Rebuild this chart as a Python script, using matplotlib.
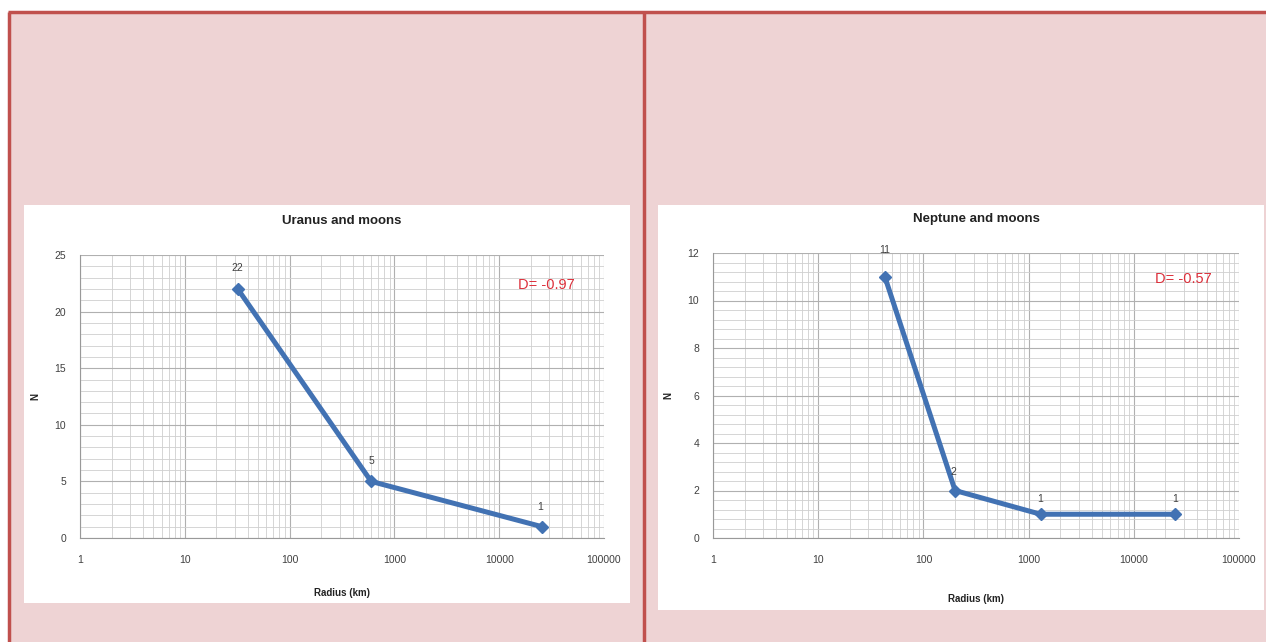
import matplotlib
matplotlib.use("Agg")
import matplotlib.pyplot as plt
from matplotlib.patches import Rectangle
from matplotlib.lines import Line2D
from matplotlib.ticker import LogLocator, MultipleLocator, NullFormatter, FixedLocator, FixedFormatter

plt.rcParams["font.family"] = ["Liberation Sans", "DejaVu Sans"]

# data
uranus_radius = [32, 600, 25559]
uranus_n = [22, 5, 1]
uranus_d = "D= -0.97"

neptune_radius = [43, 200, 1300, 24764]
neptune_n = [11, 2, 1, 1]
neptune_d = "D= -0.57"

x_ticks = [1, 10, 100, 1000, 10000, 100000]
x_labels = ["1", "10", "100", "1000", "10000", "100000"]

W, H = 1266, 642
PINK = "#eed3d4"
RED = "#c0504d"
LINE = "#4272b3"
GRID = "#cfcfcf"


def fx(px):
    return px / W


def fy(py):
    return 1 - py / H


fig = plt.figure(figsize=(W / 100, H / 100), dpi=100)
fig.patch.set_facecolor("white")

# pink background with red frame
fig.add_artist(Rectangle((fx(9), 0), 1, fy(12), transform=fig.transFigure,
                         facecolor=PINK, edgecolor="none", zorder=0))
for seg in [([fx(8), 1], [fy(12), fy(12)]),
            ([fx(9), fx(9)], [0, fy(12)]),
            ([fx(644), fx(644)], [0, fy(12)])]:
    fig.add_artist(Line2D(seg[0], seg[1], transform=fig.transFigure,
                          color=RED, lw=2.5, solid_capstyle="butt", zorder=1))


def panel(box, axbox, radius, n, ymax, ymaj, ymin, title, dtext, dpos,
          label_offsets, xpad):
    x0, y0, x1, y1 = box
    fig.add_artist(Rectangle((fx(x0), fy(y1)), fx(x1 - x0), (y1 - y0) / H,
                             transform=fig.transFigure, facecolor="white",
                             edgecolor="none", zorder=1))
    a0, b0, a1, b1 = axbox
    ax = fig.add_axes([fx(a0), fy(b1), fx(a1 - a0), (b1 - b0) / H])
    ax.set_zorder(2)
    ax.set_xscale("log")
    ax.set_xlim(1, 100000)
    ax.set_ylim(0, ymax)
    ax.xaxis.set_major_locator(FixedLocator(x_ticks))
    ax.xaxis.set_major_formatter(FixedFormatter(x_labels))
    ax.xaxis.set_minor_locator(LogLocator(base=10, subs=range(2, 10)))
    ax.xaxis.set_minor_formatter(NullFormatter())
    ax.yaxis.set_major_locator(MultipleLocator(ymaj))
    ax.yaxis.set_minor_locator(MultipleLocator(ymin))
    ax.grid(which="major", color="#b0b0b0", lw=0.8)
    ax.grid(which="minor", color=GRID, lw=0.6)
    ax.set_axisbelow(True)
    for s in ax.spines.values():
        s.set_visible(False)
    ax.spines["bottom"].set_visible(True)
    ax.spines["left"].set_visible(True)
    ax.spines["bottom"].set_color("#999999")
    ax.spines["left"].set_color("#999999")
    ax.tick_params(which="both", length=0, labelsize=7.5, labelcolor="#404040")
    ax.tick_params(axis="x", pad=12)
    ax.tick_params(axis="y", pad=10)

    ax.plot(radius, n, color=LINE, lw=3.6, marker="D", markersize=6.5,
            markerfacecolor=LINE, markeredgecolor=LINE, zorder=3, clip_on=False)
    for (r, v), (dx, dy) in zip(zip(radius, n), label_offsets):
        ax.annotate(str(v), (r, v), textcoords="offset points", xytext=(dx, dy),
                    ha="center", va="center", fontsize=7.5, color="#404040")

    ax.set_title(title, fontsize=9.5, fontweight="bold", color="#222222", pad=22)
    ax.set_xlabel("Radius (km)", fontsize=7, fontweight="bold", color="#222222", labelpad=xpad)
    ax.set_ylabel("N", fontsize=7, fontweight="bold", color="#222222", labelpad=10)
    ax.text(dpos[0], dpos[1], dtext, transform=ax.transAxes, fontsize=10.5,
            color="#dc2f3a", ha="left", va="center")
    return ax


panel((24, 205, 630, 603), (80, 255, 604, 538), uranus_radius, uranus_n,
      25, 5, 1, "Uranus and moons", uranus_d, (0.835, 0.895),
      [(0, 15), (0, 15), (-1, 14)], 17)

panel((658, 205, 1264, 610), (713, 253, 1239, 538), neptune_radius, neptune_n,
      12, 2, 0.4, "Neptune and moons", neptune_d, (0.84, 0.91),
      [(0, 19), (-1, 13), (0, 11), (0, 11)], 21)

fig.savefig("out.png", dpi=100, facecolor=fig.get_facecolor())
